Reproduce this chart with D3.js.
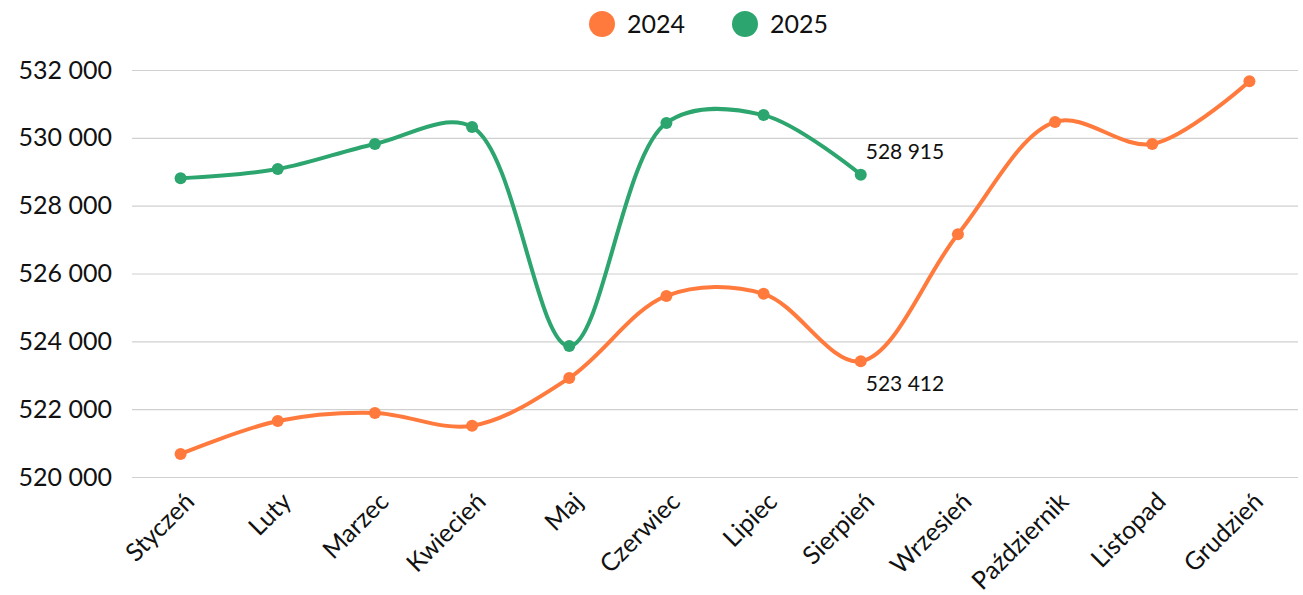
<!DOCTYPE html>
<html>
<head>
<meta charset="utf-8">
<script src="https://cdn.jsdelivr.net/npm/d3@7"></script>
<style>
  html, body { margin: 0; padding: 0; background: #fff; }
  svg { display: block; font-family: Lato, sans-serif; }
</style>
</head>
<body>
<div id="chart"></div>
<script>
// Monthly values, 2024 vs 2025 (2025 ends at Sierpień)
const months = ['Styczeń','Luty','Marzec','Kwiecień','Maj','Czerwiec','Lipiec','Sierpień','Wrzesień','Październik','Listopad','Grudzień'];
const values2024 = [520680, 521650, 521890, 521510, 522920, 525340, 525400, 523412, 527160, 530470, 529820, 531670];
const values2025 = [528810, 529080, 529820, 530320, 523860, 530440, 530670, 528915];
const yTicks = [520000, 522000, 524000, 526000, 528000, 530000, 532000];

const series = [
  { name: '2024', color: '#ff7a3c', values: values2024 },
  { name: '2025', color: '#2ca56e', values: values2025 }
];

const W = 1303, H = 595;
const m = { top: 70, right: 5, bottom: 118, left: 132 };
const iW = W - m.left - m.right, iH = H - m.top - m.bottom;

const fmt = v => d3.format(',')(v).replace(/,/g, ' ');

const svg = d3.select('#chart').append('svg').attr('width', W).attr('height', H);
const g = svg.append('g').attr('transform', `translate(${m.left},${m.top})`);

const x = d3.scaleBand().domain(months).range([0, iW]);
const cx = d => x(d) + x.bandwidth() / 2;
const y = d3.scaleLinear().domain([520000, 532000]).range([iH, 0]);

// Grid
g.append('g')
  .call(d3.axisLeft(y).tickValues(yTicks).tickSize(-iW).tickFormat(''))
  .call(g => { g.select('.domain').remove(); g.selectAll('line').attr('stroke', '#d0d0d0').attr('stroke-width', 1.2); });

// Y axis labels
g.append('g')
  .call(d3.axisLeft(y).tickValues(yTicks).tickSize(0).tickPadding(20).tickFormat(fmt))
  .call(g => { g.select('.domain').remove(); g.selectAll('text').attr('font-size', 25).attr('fill', '#111').attr('font-family', 'Lato'); });

// X axis labels
g.append('g').attr('transform', `translate(0,${iH})`)
  .call(d3.axisBottom(x).tickSize(0).tickPadding(0))
  .call(g => g.select('.domain').remove())
  .selectAll('text')
    .attr('transform', 'translate(9,20) rotate(-45)')
    .attr('text-anchor', 'end')
    .attr('dy', '0.35em')
    .attr('font-size', 25)
    .attr('font-family', 'Lato')
    .attr('fill', '#111');

// Lines + dots
const line = d3.line().x((d, i) => cx(months[i])).y(d => y(d)).curve(d3.curveCatmullRom.alpha(0.5));
series.forEach(s => {
  g.append('path').datum(s.values)
    .attr('fill', 'none').attr('stroke', s.color).attr('stroke-width', 4)
    .attr('stroke-linejoin', 'round').attr('stroke-linecap', 'round')
    .attr('d', line);
  g.selectAll(null).data(s.values).enter().append('circle')
    .attr('cx', (d, i) => cx(months[i])).attr('cy', d => y(d))
    .attr('r', 6).attr('fill', s.color);
});

// Data labels on Sierpień
const last = months.indexOf('Sierpień');
g.append('text').attr('x', cx(months[last]) + 5).attr('y', y(values2025[last]) - 16)
  .attr('font-size', 21).attr('fill', '#111').text(fmt(values2025[last]));
g.append('text').attr('x', cx(months[last]) + 5).attr('y', y(values2024[last]) + 30)
  .attr('font-size', 21).attr('fill', '#111').text(fmt(values2024[last]));

// Legend
const legend = svg.append('g').attr('transform', 'translate(602,24)');
series.forEach((s, i) => {
  const row = legend.append('g').attr('transform', `translate(${i * 143},0)`);
  row.append('circle').attr('r', 13).attr('fill', s.color);
  row.append('text').attr('x', 25).attr('y', 9).attr('font-size', 25).attr('fill', '#111').text(s.name);
});
</script>
</body>
</html>
